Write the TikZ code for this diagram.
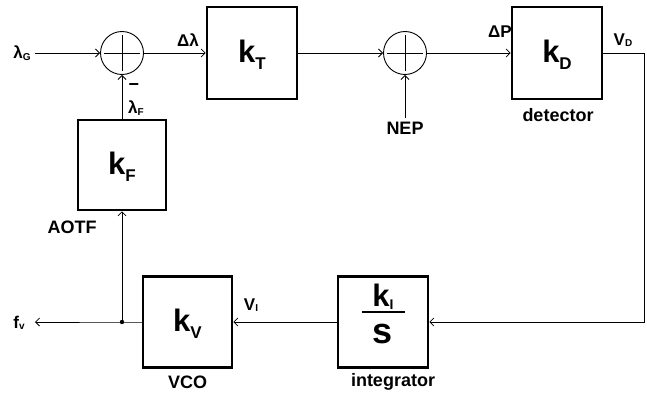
\documentclass[tikz,border=0pt]{standalone}
\usepackage{fontspec}
\setmainfont{Liberation Sans}
\usetikzlibrary{arrows.meta}
\begin{document}
\begin{tikzpicture}[x=1pt,y=-1pt,
  blk/.style={draw, line width=2.6pt, minimum width=88pt, minimum height=90pt, inner sep=0pt},
  sumnode/.style={draw, circle, line width=0.9pt, minimum size=43pt, inner sep=0pt},
  conn/.style={line width=0.8pt, -{Straight Barb[length=4pt,width=8pt]}},
  wire/.style={line width=0.8pt},
  lbl/.style={font=\fontsize{18}{20}\selectfont\bfseries, inner sep=1pt},
  sig/.style={font=\fontsize{17}{18}\selectfont\bfseries, inner sep=0pt},
  kk/.style={font=\fontsize{31}{34}\selectfont\bfseries, inner sep=0pt}
]
\newcommand{\ksub}[1]{\raisebox{-7pt}{\fontsize{17}{17}\selectfont #1}}
\newcommand{\ssub}[1]{\raisebox{-1.5pt}{\fontsize{10}{10}\selectfont #1}}
\useasboundingbox (0,0) rectangle (647,396);

% blocks
\node[sumnode] (s1) at (122,53) {};
\node[sumnode] (s2) at (405,53) {};
\draw[wire] ([xshift=-18pt]s1.center) -- ([xshift=18pt]s1.center)
            ([yshift=-18pt]s1.center) -- ([yshift=18pt]s1.center);
\draw[wire] ([xshift=-18pt]s2.center) -- ([xshift=18pt]s2.center)
            ([yshift=-18pt]s2.center) -- ([yshift=18pt]s2.center);

\node[blk, minimum width=90pt, minimum height=92pt] (kT) at (252,53) {};
\node[kk] (kTt) at (252,55) {k\ksub{T}};
\node[blk, minimum width=90pt, minimum height=92pt] (kD) at (557,53) {};
\node[kk] (kDt) at (557,55) {k\ksub{D}};
\node[blk] (kF) at (122,165) {};
\node[kk] (kFt) at (122,167) {k\ksub{F}};
\node[blk, minimum width=89pt, minimum height=91pt] (kV) at (187.5,322) {};
\node[kk] (kVt) at (187.5,324) {k\ksub{V}};
\node[blk, minimum width=90pt, minimum height=91pt] (kI) at (383,322) {};
\node[kk] (kIt) at (383,297) {k\raisebox{-3pt}{\fontsize{14}{14}\selectfont I}};
\coordinate (fl) at (362,312);
\coordinate (fr) at (405,312);
\draw[line width=1.4pt] (fl) -- (fr);
\node[kk, font=\fontsize{36}{36}\selectfont\bfseries] (kIs) at (383,334) {s};

% labels
\node[sig] (lg) at (22,53) {λ\ssub{G}};
\node[sig] (dl) at (188,40) {Δλ};
\node[font=\fontsize{18}{18}\selectfont\bfseries, inner sep=0pt] (minus) at (134,87) {−};
\node[sig] (lf) at (136,108) {λ\ssub{F}};
\node[lbl] (nep) at (405,128) {NEP};
\node[sig] (dp) at (500,32) {ΔP};
\node[sig] (vd) at (623,40) {V\ssub{D}};
\node[lbl] (det) at (558,115) {detector};
\node[lbl] (aotf) at (72,227) {AOTF};
\node[sig] (fv) at (19,323) {f\ssub{v}};
\node[sig] (vi) at (251,305) {V\ssub{I}};
\node[lbl] (vco) at (187.5,382) {VCO};
\node[lbl] (integ) at (393,382) {integrator};

% connectors
\coordinate (lgin) at (35,53);
\coordinate (cr) at (644,53);
\coordinate (j) at (122,322);
\coordinate (fvout) at (35,322);
\coordinate (nepin) at (405,118);
\draw[conn] (lgin) -- (s1.west);
\draw[conn] (s1.east) -- (kT.west);
\draw[conn] (kT.east) -- (s2.west);
\draw[conn] (nepin) -- (s2.south);
\draw[conn] (s2.east) -- (kD.west);
\draw[conn] (kD.east) -- (cr) |- (kI.east);
\draw[conn] (kI.west) -- (kV.east);
\draw[conn] (kV.west) -- (j) -- (fvout);
\draw[conn] (j) -- (kF.south);
\draw[conn] (kF.north) -- (s1.south);
\fill (j) circle (2.2pt);
\end{tikzpicture}
\end{document}
